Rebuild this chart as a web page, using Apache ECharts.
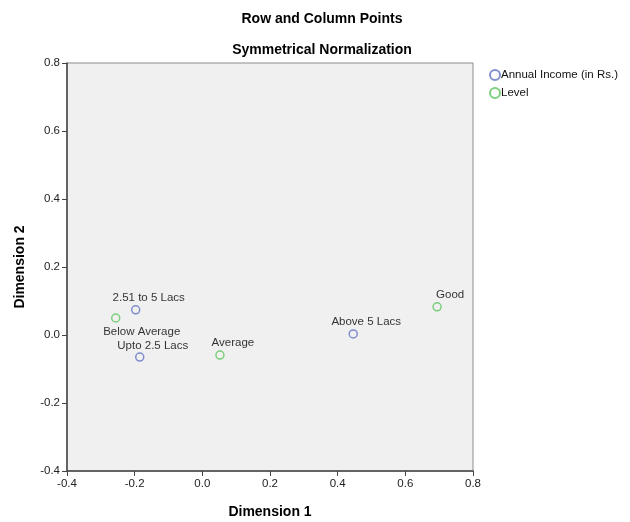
<!DOCTYPE html>
<html><head><meta charset="utf-8">
<script src="https://cdn.jsdelivr.net/npm/echarts@6/dist/echarts.min.js"></script>
<style>html,body{margin:0;padding:0;background:#fff}#c{width:630px;height:522px}</style>
</head><body><div id="c"></div>
<script>
const incomeNames = ['2.51 to 5 Lacs', 'Upto 2.5 Lacs', 'Above 5 Lacs'];
const incomeDim1 = [-0.197, -0.185, 0.446];
const incomeDim2 = [0.074, -0.065, 0.003];
const levelNames = ['Below Average', 'Average', 'Good'];
const levelDim1 = [-0.256, 0.052, 0.694];
const levelDim2 = [0.050, -0.059, 0.083];
const xTicks = [-0.4, 0.8, 0.2];
const yTicks = [-0.4, 0.8, 0.2];

const FONT = '"Liberation Sans", Arial, sans-serif';
function build(names, xs, ys) {
  return names.map((n, i) => {
    const item = { name: n, value: [xs[i], ys[i]] };
    if (n === 'Below Average') item.label = { position: 'bottom', offset: [26, -2] };
    return item;
  });
}
const labelCfg = { show: true, position: 'top', offset: [13, 4], formatter: p => p.name,
  color: '#000', fontSize: 11.5, fontFamily: FONT };

const chart = echarts.init(document.getElementById('c'), null, { renderer: 'canvas' });
chart.setOption({
  animation: false,
  title: [
    { text: 'Row and Column Points', left: 317, top: 7, textAlign: 'center',
      textStyle: { fontSize: 14, fontWeight: 'bold', color: '#000', fontFamily: FONT } },
    { text: 'Symmetrical Normalization', left: 317, top: 38, textAlign: 'center',
      textStyle: { fontSize: 14, fontWeight: 'bold', color: '#000', fontFamily: FONT } }
  ],
  legend: {
    orient: 'vertical', left: 484, top: 64, itemWidth: 10, itemHeight: 10, itemGap: 6,
    textStyle: { fontSize: 11.5, color: '#111', fontFamily: FONT, padding: [0, 0, 0, -4] },
    data: [{ name: 'Annual Income (in Rs.)', icon: 'circle' }, { name: 'Level', icon: 'circle' }]
  },
  grid: { left: 67, right: 157, top: 63, bottom: 51, show: true, backgroundColor: '#f0f0f0',
    borderColor: '#8c8c8c', borderWidth: 1, containLabel: false, outerBoundsMode: 'none' },
  xAxis: {
    type: 'value', min: xTicks[0], max: xTicks[1], interval: xTicks[2],
    name: 'Dimension 1', nameLocation: 'middle', nameGap: 34,
    nameTextStyle: { fontSize: 14, fontWeight: 'bold', color: '#000', fontFamily: FONT },
    axisLine: { show: true, onZero: false, lineStyle: { color: '#444', width: 1.5 } },
    axisTick: { show: true, inside: false, length: 5, lineStyle: { color: '#444' } },
    axisLabel: { color: '#222', fontSize: 11.5, fontFamily: FONT, margin: 7, formatter: v => v.toFixed(1) },
    splitLine: { show: false }
  },
  yAxis: {
    type: 'value', min: yTicks[0], max: yTicks[1], interval: yTicks[2],
    name: 'Dimension 2', nameLocation: 'middle', nameGap: 40,
    nameTextStyle: { fontSize: 14, fontWeight: 'bold', color: '#000', fontFamily: FONT },
    axisLine: { show: true, onZero: false, lineStyle: { color: '#444', width: 1.5 } },
    axisTick: { show: true, inside: false, length: 5, lineStyle: { color: '#444' } },
    axisLabel: { color: '#222', fontSize: 11.5, fontFamily: FONT, margin: 7, formatter: v => v.toFixed(1) },
    splitLine: { show: false }
  },
  series: [
    { name: 'Annual Income (in Rs.)', type: 'scatter', symbol: 'circle', symbolSize: 8,
      itemStyle: { color: 'transparent', borderColor: '#6474c4', borderWidth: 1.5 },
      label: labelCfg, data: build(incomeNames, incomeDim1, incomeDim2) },
    { name: 'Level', type: 'scatter', symbol: 'circle', symbolSize: 8,
      itemStyle: { color: 'transparent', borderColor: '#5cc45c', borderWidth: 1.5 },
      label: labelCfg, data: build(levelNames, levelDim1, levelDim2) }
  ]
});
</script></body></html>
